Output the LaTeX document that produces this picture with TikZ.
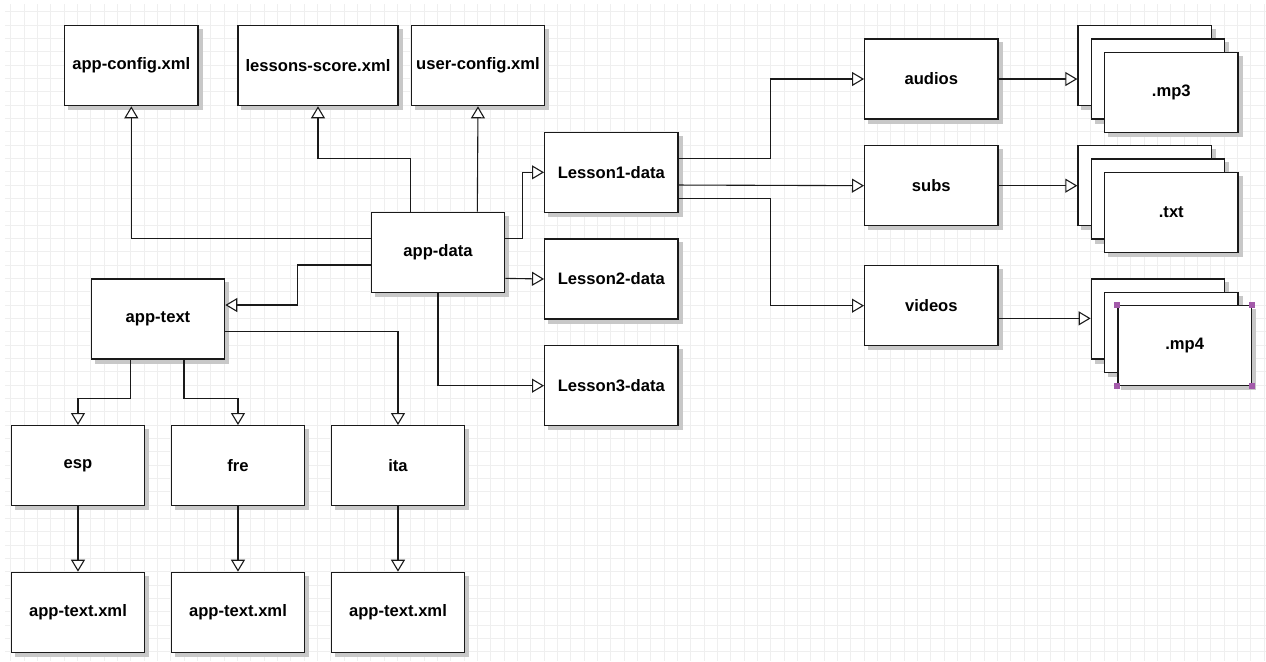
\documentclass[tikz,border=0pt]{standalone}
\usepackage{fontspec}
\setmainfont{Liberation Sans}
\usetikzlibrary{arrows.meta}
\definecolor{gridl}{HTML}{EFEFEF}
\definecolor{boxshade}{HTML}{C8C8C8}
\definecolor{edge}{HTML}{1A1A1A}
\definecolor{handle}{HTML}{A35BAA}
\tikzset{
  box/.style={draw=edge, line width=1.3pt, fill=white, inner sep=0pt,
    anchor=north west, minimum width=133.33pt, minimum height=80pt,
    font=\bfseries\fontsize{16.6}{19}\selectfont},
  widebox/.style={box, minimum width=160pt},
  conn/.style={draw=edge, line width=1.1pt,
    -{Triangle[length=12pt, width=14pt, fill=white, line width=1.1pt]}},
  gridline/.style={draw=gridl, line width=1pt}
}
% a box with its grey offset shadow: [style]{name}{top-left corner}{label}
\newcommand\shadedbox[4][box]{%
  \node[#1, draw=none, fill=none] (#2-sh) at (#3) {};
  \fill[boxshade] ([shift={(4pt,-4pt)}]#2-sh.south west)
    rectangle ([shift={(4pt,-4pt)}]#2-sh.north east);
  \node[#1] (#2) at (#3) {#4};}
\begin{document}
\begin{tikzpicture}[x=13.3333pt, y=-13.3333pt]
\useasboundingbox (-0.8,-0.8775) rectangle (94.15,48.7);
\fill[white] (-0.8,-0.8775) rectangle (94.15,48.7);
% background grid
\foreach \i in {0,...,94} \draw[gridline] (\i,-0.55) -- (\i,48.7);
\foreach \j in {0,...,48} \draw[gridline] (-0.4,\j) -- (94.15,\j);

% configuration files
\shadedbox{appconfig}{4,1}{app-config.xml}
\shadedbox[widebox]{lessons}{17,1}{lessons-score.xml}
\shadedbox{userconfig}{30,1}{user-config.xml}

% data folders
\shadedbox{appdata}{27,15}{app-data}
\shadedbox{lesson1}{40,9}{Lesson1-data}
\shadedbox{lesson2}{40,17}{Lesson2-data}
\shadedbox{lesson3}{40,25}{Lesson3-data}

% localisation
\shadedbox{apptext}{6,20}{app-text}
\shadedbox{esp}{0,31}{esp}
\shadedbox{fre}{12,31}{fre}
\shadedbox{ita}{24,31}{ita}
\shadedbox{xmlesp}{0,42}{app-text.xml}
\shadedbox{xmlfre}{12,42}{app-text.xml}
\shadedbox{xmlita}{24,42}{app-text.xml}

% media folders
\shadedbox{audios}{64,2}{audios}
\shadedbox{subs}{64,10}{subs}
\shadedbox{videos}{64,19}{videos}

% media file stacks
\shadedbox{mpa}{80,1}{}
\shadedbox{mpb}{81,2}{}
\shadedbox{mpc}{82,3}{.mp3}
\shadedbox{txa}{80,10}{}
\shadedbox{txb}{81,11}{}
\shadedbox{txc}{82,12}{.txt}
\shadedbox{mva}{81,20}{}
\shadedbox{mvb}{82,21}{}
\shadedbox{mvc}{83,22}{.mp4}

% selection handles
\foreach \c in {north west, north east, south west, south east}
  \fill[handle] (mvc.\c) ++(-3pt,-3pt) rectangle ++(6pt,6pt);

% app-data links
\draw[conn] (appdata.west |- 0,17) -| (appconfig.south);
\draw[conn] (appdata.north -| 30,0) -- (30,11) -| (lessons.south);
\draw[conn] (appdata.north -| 35,0) -- (userconfig.south);
\draw[conn] (appdata.east |- 0,17) -- (38.4,17) |- (lesson1.west);
\draw[conn] (appdata.east |- 0,20) -- (lesson2.west);
\draw[conn] (appdata.south) |- (lesson3.west);
\draw[conn] (appdata.west |- 0,19) -- (21.5,19) |- (apptext.east |- 0,22);

% app-text links
\draw[conn] (apptext.south -| 9,0) -- (9,29) -| (esp.north);
\draw[conn] (apptext.south -| 13,0) -- (13,29) -| (fre.north);
\draw[conn] (apptext.east |- 0,24) -| (ita.north);
\draw[conn] (esp.south) -- (xmlesp.north);
\draw[conn] (fre.south) -- (xmlfre.north);
\draw[conn] (ita.south) -- (xmlita.north);

% lesson media links
\draw[conn] (lesson1.east |- 0,11) -- (57,11) |- (audios.west);
\draw[conn] (lesson1.east |- 0,13) -- (subs.west);
\draw[conn] (lesson1.east |- 0,14) -- (57,14) |- (videos.west);
\draw[conn] (audios.east) -- (mpa.west |- audios.east);
\draw[conn] (subs.east) -- (txa.west |- subs.east);
\draw[conn] (videos.east |- 0,23) -- (mva.west |- 0,23);
\end{tikzpicture}
\end{document}
